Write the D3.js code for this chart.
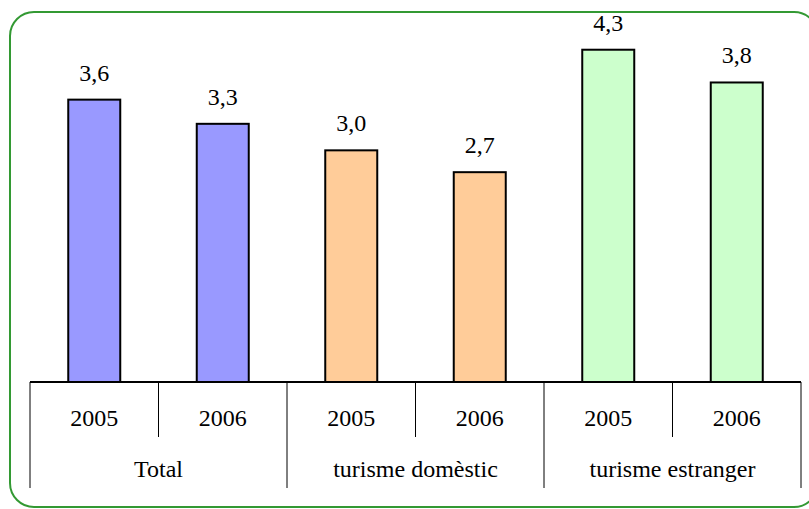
<!DOCTYPE html>
<html><head><meta charset="utf-8">
<script src="https://cdn.jsdelivr.net/npm/d3@7"></script>
<style>body{margin:0;background:#fff}svg{display:block}
svg text{font-family:"Liberation Serif","Times New Roman",Times,serif;font-size:24px;fill:#000}</style>
</head><body>
<script>
const groups = ["Total", "turisme domèstic", "turisme estranger"];
const years = ["2005", "2006"];
const values = [3.62, 3.31, 2.97, 2.69, 4.26, 3.84];
const labels = ["3,6", "3,3", "3,0", "2,7", "4,3", "3,8"];
const groupColors = ["#9999FF", "#FFCC99", "#CCFFCC"];

const W = 809, H = 509;
const svg = d3.select("body").append("svg").attr("width", W).attr("height", H);

svg.append("rect").attr("x", 10).attr("y", 12).attr("width", 808).attr("height", 495)
  .attr("rx", 24).attr("ry", 24).attr("fill", "#fff").attr("stroke", "#339933").attr("stroke-width", 2);

const cats = [];
groups.forEach((g, gi) => years.forEach((y, yi) => cats.push({g, gi, y, i: gi * years.length + yi})));

const x0 = 30, x1 = 801, yBase = 382;
const x = d3.scaleBand().domain(cats.map(d => d.i)).range([x0, x1]).paddingInner(0).paddingOuter(0);
const y = d3.scaleLinear().domain([0, 5]).range([yBase, yBase - 390]);
const bw = 52;

svg.selectAll("rect.bar").data(cats).enter().append("rect").attr("class", "bar")
  .attr("x", d => x(d.i) + x.bandwidth() / 2 - bw / 2)
  .attr("y", d => y(values[d.i]))
  .attr("width", bw)
  .attr("height", d => yBase - y(values[d.i]))
  .attr("fill", d => groupColors[d.gi]).attr("stroke", "#000").attr("stroke-width", 2);

svg.selectAll("text.val").data(cats).enter().append("text").attr("class", "val")
  .attr("x", d => x(d.i) + x.bandwidth() / 2)
  .attr("y", d => y(values[d.i]) - 19)
  .attr("text-anchor", "middle")
  .text(d => labels[d.i]);

svg.append("line").attr("x1", x0).attr("x2", x1).attr("y1", yBase).attr("y2", yBase)
  .attr("stroke", "#000").attr("stroke-width", 2);

cats.filter(d => d.i % 2 === 1).forEach(d => {
  svg.append("line").attr("x1", x(d.i)).attr("x2", x(d.i)).attr("y1", yBase).attr("y2", 437)
    .attr("stroke", "#000").attr("stroke-width", 1);
});
d3.range(groups.length + 1).forEach(k => {
  const xx = k < groups.length ? x(k * 2) : x1;
  svg.append("line").attr("x1", xx).attr("x2", xx).attr("y1", yBase).attr("y2", 488)
    .attr("stroke", "#000").attr("stroke-width", 1);
});

svg.selectAll("text.year").data(cats).enter().append("text").attr("class", "year")
  .attr("x", d => x(d.i) + x.bandwidth() / 2).attr("y", 426)
  .attr("text-anchor", "middle")
  .text(d => d.y);

svg.selectAll("text.grp").data(groups).enter().append("text").attr("class", "grp")
  .attr("x", (g, k) => x(k * 2) + x.bandwidth())
  .attr("y", 477)
  .attr("text-anchor", "middle")
  .text(g => g);
</script>
</body></html>
